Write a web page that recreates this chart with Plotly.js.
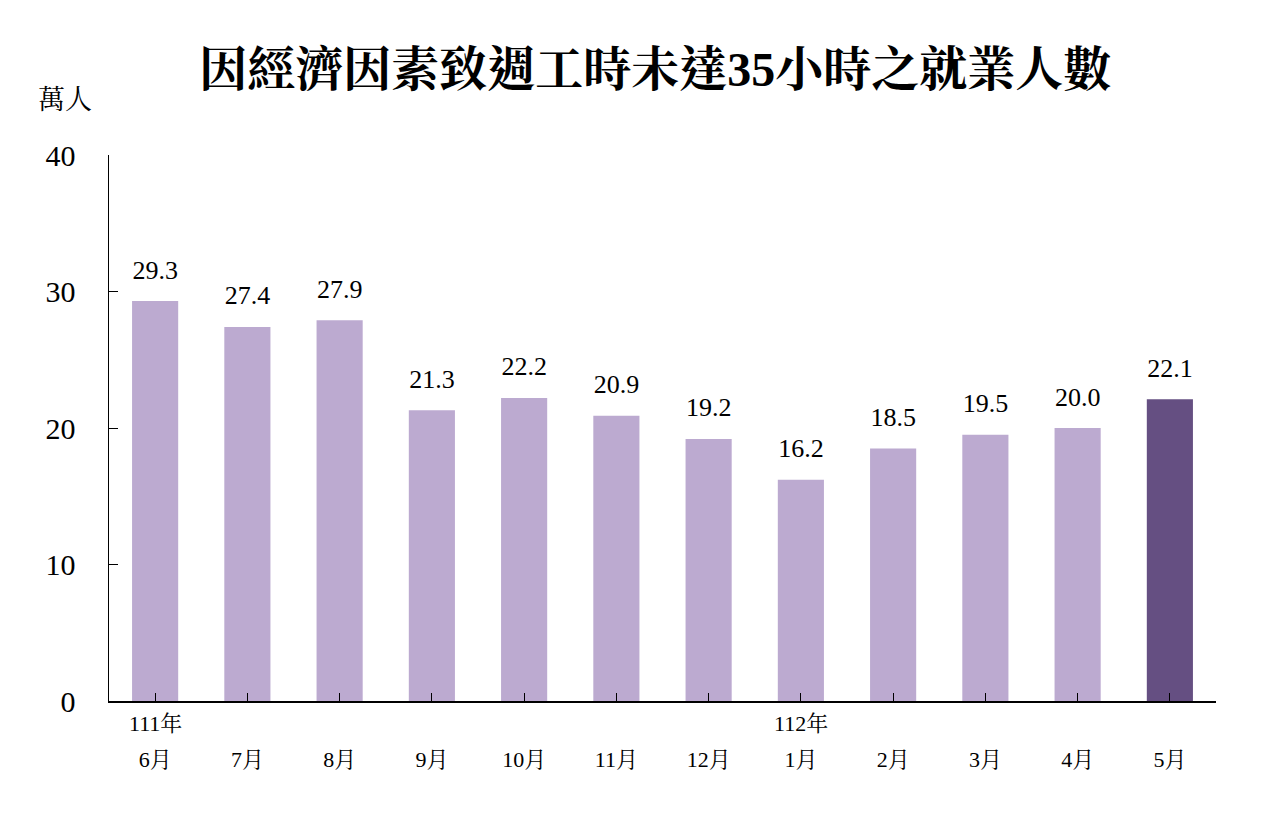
<!DOCTYPE html>
<html>
<head>
<meta charset="utf-8">
<script src="https://cdn.plot.ly/plotly-3.0.1.min.js"></script>
<style>
  body { margin: 0; background: #fff; }
  #myDiv { width: 1280px; height: 818px; }
</style>
</head>
<body>
<div id="myDiv"></div>
<script>
const months = ["6月", "7月", "8月", "9月", "10月", "11月", "12月", "1月", "2月", "3月", "4月", "5月"]
const values = [29.3, 27.4, 27.9, 21.3, 22.2, 20.9, 19.2, 16.2, 18.5, 19.5, 20.0, 22.1]
const yearLabels = [{ idx: 0, text: "111年" }, { idx: 7, text: "112年" }]
const yTicks = [0, 10, 20, 30, 40]

const fontFam = "Liberation Serif, 'Noto Serif CJK TC', 'Noto Sans CJK TC', serif"
const light = "#bcaad0"
const dark = "#654f82"

const colors = values.map((v, i) => (i == values.length - 1 ? dark : light))
const xs = months.map((m, i) => i)

const bars = {
  x: xs,
  y: values,
  type: "bar",
  marker: { color: colors },
  hoverinfo: "skip",
}

// value labels sit a bit above the bars, pushed up by an invisible marker
const labels = {
  x: xs,
  y: values,
  type: "scatter",
  mode: "markers+text",
  marker: { size: 24, opacity: 0 },
  text: values.map((v) => v.toFixed(1)),
  textposition: "top center",
  cliponaxis: false,
  textfont: { family: fontFam, size: 26, color: "#000" },
  hoverinfo: "skip",
}

const annotations = yearLabels.map((y) => ({
  x: y.idx,
  xref: "x",
  y: 0,
  yref: "paper",
  yanchor: "middle",
  yshift: -22,
  text: y.text,
  showarrow: false,
  font: { family: fontFam, size: 22, color: "#000" },
}))

annotations.push({
  x: (36 - 109) / (1216 - 109),
  xref: "paper",
  xanchor: "left",
  y: (701 - 100) / (701 - 155),
  yref: "paper",
  yanchor: "middle",
  text: "萬人",
  showarrow: false,
  font: { family: fontFam, size: 27, color: "#000" },
})

const layout = {
  width: 1280,
  height: 818,
  margin: { l: 109, r: 64, t: 155, b: 117 },
  paper_bgcolor: "#fff",
  plot_bgcolor: "#fff",
  bargap: 0.5,
  showlegend: false,
  title: {
    text: "<b>因經濟因素致週工時未達35小時之就業人數</b>",
    font: { family: fontFam, size: 48, color: "#000" },
    x: 0.512,
    xanchor: "center",
    y: 0.915,
    yanchor: "middle",
  },
  xaxis: {
    tickmode: "array",
    tickvals: xs,
    ticktext: months,
    range: [-0.5, months.length - 0.5],
    tickson: "boundaries",
    ticks: "inside",
    ticklen: 8,
    tickcolor: "#000",
    showline: true,
    linecolor: "#000",
    linewidth: 1.5,
    showgrid: false,
    zeroline: false,
    ticklabelstandoff: 38,
    tickfont: { family: fontFam, size: 22, color: "#000" },
    fixedrange: true,
  },
  yaxis: {
    range: [0, 40],
    tickmode: "array",
    tickvals: yTicks,
    ticks: "inside",
    ticklen: 9,
    tickcolor: "#000",
    showline: true,
    linecolor: "#000",
    linewidth: 1.5,
    showgrid: false,
    zeroline: false,
    ticklabelstandoff: 26,
    tickfont: { family: fontFam, size: 30, color: "#000" },
    fixedrange: true,
  },
  annotations: annotations,
}

Plotly.newPlot("myDiv", [bars, labels], layout, { displayModeBar: false, staticPlot: true })
</script>
</body>
</html>
